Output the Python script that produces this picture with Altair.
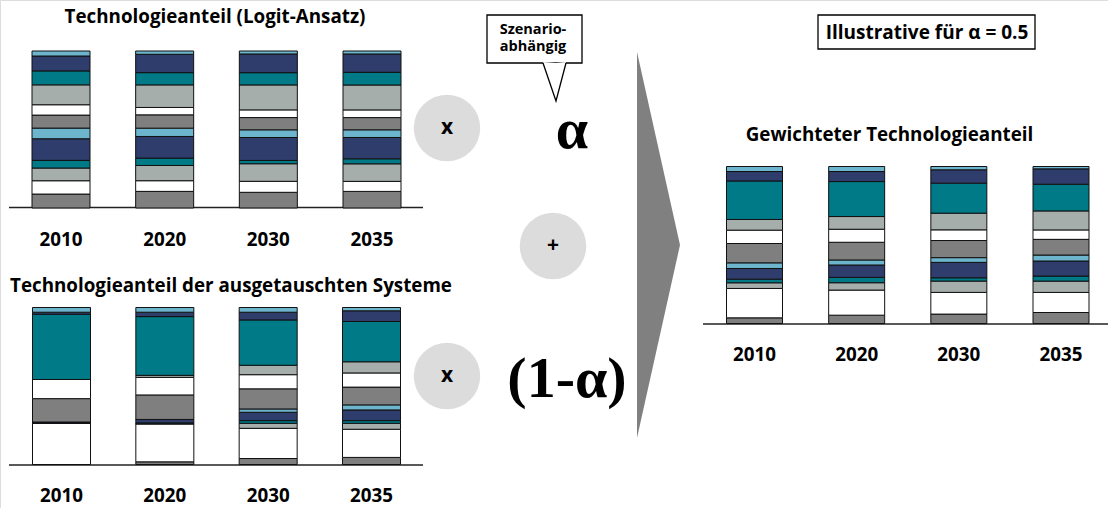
import altair as alt
import pandas as pd

# ---------------- data ----------------
years = ["2010", "2020", "2030", "2035"]
segments = ["A1", "A2", "A3", "A4", "A5", "A6", "B1", "B2", "B3", "B4", "B5", "B6"]
seg_colors = ["#7f7f7f", "#ffffff", "#a6aeac", "#007a86", "#2e3d6b", "#6cb5cd",
              "#7f7f7f", "#ffffff", "#a6aeac", "#007a86", "#2e3d6b", "#6cb5cd"]

# shares in % (bottom -> top), one list per year
logit_shares = [
    [8.9, 8.5, 8.1, 4.9, 13.8, 6.8, 8.3, 6.6, 12.7, 8.9, 9.5, 3.2],
    [10.6, 6.8, 9.7, 4.7, 13.8, 5.3, 8.5, 4.7, 14.4, 7.8, 11.7, 2.1],
    [10.0, 7.0, 11.2, 2.1, 14.6, 4.9, 7.8, 4.9, 15.9, 7.8, 11.9, 1.9],
    [10.6, 6.4, 11.2, 3.2, 13.6, 4.9, 7.8, 4.9, 15.9, 8.1, 11.7, 1.9],
]
replaced_shares = [
    [0.0, 26.2, 0.0, 0.0, 0.9, 0.0, 14.9, 12.2, 0.0, 41.6, 1.3, 3.0],
    [1.7, 24.2, 0.0, 0.6, 2.2, 0.0, 15.6, 11.2, 1.3, 37.4, 2.8, 3.0],
    [3.8, 19.2, 3.2, 1.7, 5.3, 2.1, 12.8, 9.0, 6.0, 28.8, 4.9, 3.0],
    [4.5, 17.9, 3.8, 1.7, 6.8, 3.2, 11.3, 9.0, 7.1, 25.6, 6.8, 2.1],
]
weighted_shares = [
    [3.6, 18.7, 3.6, 2.3, 6.8, 3.6, 12.3, 8.5, 6.8, 24.5, 6.0, 3.2],
    [5.3, 16.0, 4.7, 3.4, 7.9, 3.2, 11.3, 8.3, 8.1, 22.3, 6.4, 3.2],
    [6.0, 13.8, 7.2, 2.1, 9.8, 3.0, 10.9, 6.8, 10.6, 19.1, 8.5, 2.1],
    [7.0, 12.8, 7.2, 3.2, 9.6, 3.8, 10.0, 6.0, 12.1, 17.0, 9.8, 1.5],
]

titles = ["Technologieanteil (Logit-Ansatz)",
          "Technologieanteil der ausgetauschten Systeme",
          "Gewichteter Technologieanteil"]

W, H = 1108, 508
FONT = "Open Sans"
SERIF = "Liberation Serif"
TS = 18.8  # title / label font size


def long_df(shares):
    rows = []
    for y, vals in zip(years, shares):
        for i, (s, v) in enumerate(zip(segments, vals)):
            rows.append({"year": y, "seg": s, "idx": i, "value": v})
    return pd.DataFrame(rows)


color_enc = alt.Color("seg:N", scale=alt.Scale(domain=segments, range=seg_colors), legend=None)


def panel(shares, x_range, y_range, bar_w, label_y, base_x, base_y):
    xs = alt.X("year:N", scale=alt.Scale(type="point", domain=years, range=x_range, padding=0), axis=None)
    bars = alt.Chart(long_df(shares)).mark_bar(width=bar_w, stroke="#111111", strokeWidth=1).encode(
        x=xs,
        y=alt.Y("value:Q", stack="normalize",
                scale=alt.Scale(domain=[0, 1], range=y_range, nice=False, zero=False), axis=None),
        color=color_enc,
        order=alt.Order("idx:Q", sort="ascending"),
    )
    labels = alt.Chart(pd.DataFrame({"year": years})).mark_text(
        font=FONT, fontWeight="bold", fontSize=TS, baseline="middle", color="#000000"
    ).encode(x=xs, y=alt.value(label_y), text="year:N")
    base = alt.Chart(pd.DataFrame({"k": [0]})).mark_rule(color="#222222", strokeWidth=1.5).encode(
        x=alt.value(base_x[0]), x2=alt.value(base_x[1]), y=alt.value(base_y))
    return [base, bars, labels]


layers = []
layers += panel(logit_shares, [61, 372], [208, 51], 58, 240, (9, 423), 207.5)
layers += panel(replaced_shares, [61.5, 371.5], [464.5, 307.5], 58, 496, (9, 423), 465)
layers += panel(weighted_shares, [754.5, 1061], [323.5, 166.5], 56, 355, (703, 1108), 324)


def text(t, x, y, size=TS, weight="bold", font=FONT, align="center", baseline="middle"):
    return alt.Chart(pd.DataFrame({"t": [t]})).mark_text(
        font=font, fontSize=size, fontWeight=weight, align=align, baseline=baseline, color="#000000"
    ).encode(x=alt.value(x), y=alt.value(y), text="t:N")


# panel titles
layers.append(text(titles[0], 215, 17))
layers.append(text(titles[1], 231, 286))
layers.append(text(titles[2], 889.5, 135))

# operator circles
circ_x = [447, 553, 447]
circ_y = [128, 246, 376]
circ_sym = ["x", "+", "x"]
circ_df = pd.DataFrame({"cx": circ_x, "cy": circ_y, "sym": circ_sym})
pix_x = alt.Scale(domain=[0, W], range=[0, W], nice=False, zero=False)
pix_y = alt.Scale(domain=[0, H], range=[0, H], nice=False, zero=False)
layers.append(alt.Chart(circ_df).mark_circle(size=4420, color="#dcdcdc", opacity=1).encode(
    x=alt.X("cx:Q", scale=pix_x, axis=None), y=alt.Y("cy:Q", scale=pix_y, axis=None)))
layers.append(alt.Chart(circ_df).mark_text(font=FONT, fontSize=21, fontWeight="bold", baseline="middle").encode(
    x=alt.X("cx:Q", scale=pix_x, axis=None), y=alt.Y("cy:Q", scale=pix_y, axis=None), text="sym:N"))

# alpha symbols
layers.append(text("α", 572, 148, size=58, font=SERIF, baseline="alphabetic"))
layers.append(text("(1-α)", 567, 397, size=58, font=SERIF, baseline="alphabetic"))

# big arrow (chevron)
arrow_df = pd.DataFrame({"ax": [637, 680], "ay": [52, 245], "ay2": [438, 245]})
layers.append(alt.Chart(arrow_df).mark_area(color="#808080", opacity=1).encode(
    x=alt.X("ax:Q", scale=pix_x, axis=None),
    y=alt.Y("ay:Q", scale=pix_y, axis=None), y2="ay2:Q"))

# callout box "Szenario-abhängig"
layers.append(alt.Chart(pd.DataFrame({"k": [0]})).mark_rect(fill="white", stroke="#000000", strokeWidth=1.3).encode(
    x=alt.value(487), x2=alt.value(582), y=alt.value(15), y2=alt.value(63)))
ptr_df = pd.DataFrame({"px": [543, 556, 566], "py": [62, 63, 62], "py2": [62, 101, 62]})
layers.append(alt.Chart(ptr_df).mark_area(color="white", opacity=1).encode(
    x=alt.X("px:Q", scale=pix_x, axis=None), y=alt.Y("py2:Q", scale=pix_y, axis=None), y2=alt.Y2("py:Q")))
ptr_line = pd.DataFrame({"px": [543, 556, 566], "py": [63, 101, 63], "o": [0, 1, 2]})
layers.append(alt.Chart(ptr_line).mark_line(color="#000000", strokeWidth=1.3).encode(
    x=alt.X("px:Q", scale=pix_x, axis=None), y=alt.Y("py:Q", scale=pix_y, axis=None), order="o:Q"))
layers.append(text("Szenario-", 533, 30, size=14.5))
layers.append(text("abhängig", 533, 47, size=14.5))

# "Illustrative" box
layers.append(alt.Chart(pd.DataFrame({"k": [0]})).mark_rect(fill="white", stroke="#000000", strokeWidth=1.3).encode(
    x=alt.value(818), x2=alt.value(1035), y=alt.value(15), y2=alt.value(49)))
layers.append(text("Illustrative für α = 0.5", 927, 33, size=19))

chart = alt.layer(*layers).resolve_scale(x="independent", y="independent").properties(
    width=W, height=H, autosize=alt.AutoSizeParams(type="none"), padding=0
).configure_view(stroke=None).configure(background="white")

chart.save("out.html", embed_options={"renderer": "svg", "actions": False})
